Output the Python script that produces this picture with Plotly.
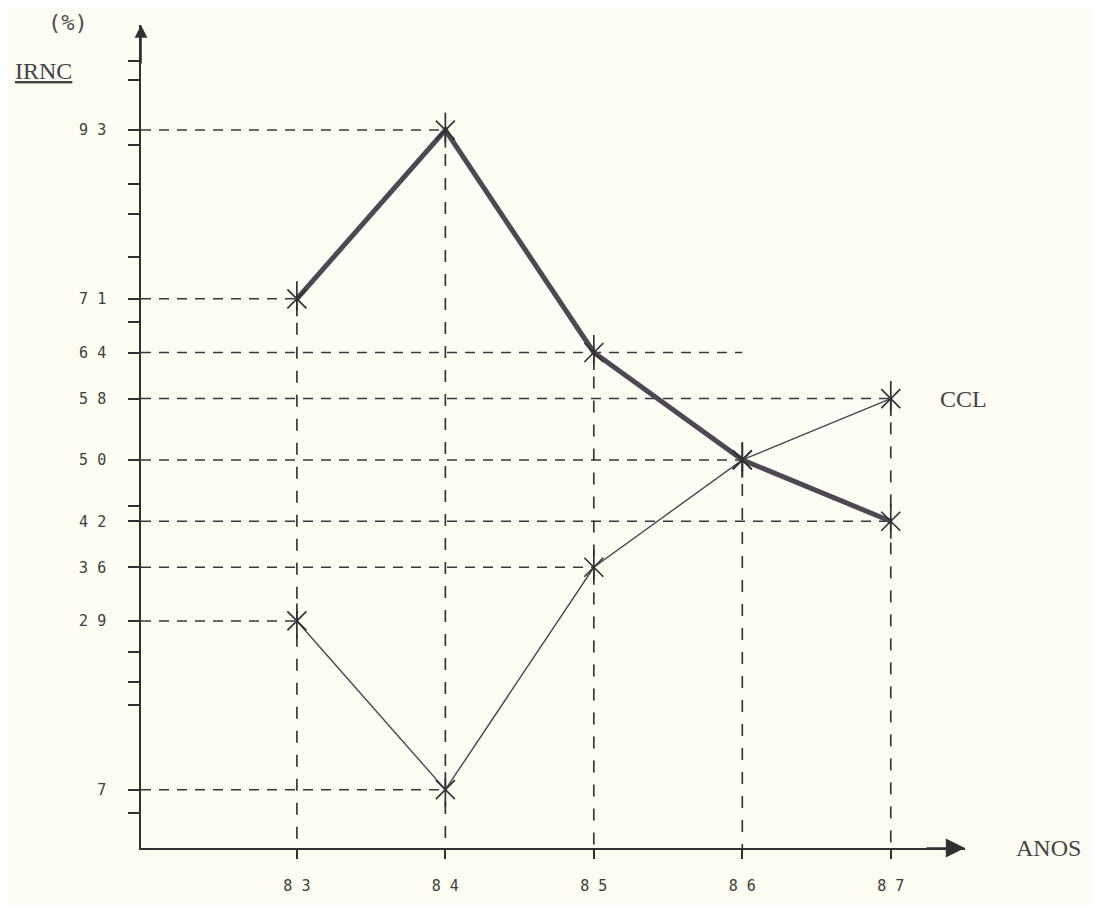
import plotly.graph_objects as go

# ---- data ----
anos = [83, 84, 85, 86, 87]
irnc = [71, 93, 64, 50, 42]
ccl = [29, 7, 36, 50, 58]
y_labeled_ticks = [93, 71, 64, 58, 50, 42, 36, 29, 7]
y_minor_ticks = [102, 99.5, 91, 86, 82, 76.5, 68, 44, 25, 21, 18, 4]
x_tick_labels = ["8 3", "8 4", "8 5", "8 6", "8 7"]

X_RANGE = [81.95, 87.5]
Y_RANGE = [-0.6, 106.7]
INK = "#333030"
BG = "#fdfdf4"

fig = go.Figure()

# ---- dashed guide lines ----
guide = dict(color="#3a3636", width=1.5, dash="10px,8px")
h_extend = {64: 86}  # hand-drawn line that runs past its point
h_done = set()
for xs, ys in [(anos, irnc), (anos, ccl)]:
    for xv, yv in zip(xs, ys):
        if yv in h_done:
            continue
        h_done.add(yv)
        x_end = max(xv, h_extend.get(yv, xv))
        fig.add_shape(type="line", xref="x", yref="y", x0=X_RANGE[0], x1=x_end,
                      y0=yv, y1=yv, line=guide, layer="below")
for i, xv in enumerate(anos):
    top = max(irnc[i], ccl[i])
    fig.add_shape(type="line", xref="x", yref="y", x0=xv, x1=xv,
                  y0=top, y1=Y_RANGE[0],
                  line=dict(color="#3a3636", width=1.7, dash="12px,12px"),
                  layer="below")

# ---- series ----
fig.add_trace(go.Scatter(
    x=anos, y=ccl, mode="lines", name="CCL",
    line=dict(color="#4a4550", width=1.4),
))
fig.add_trace(go.Scatter(
    x=anos, y=irnc, mode="lines", name="IRNC",
    line=dict(color="#4e4754", width=5),
))
# asterisk-like star markers (X + vertical stroke)
for ys in (ccl, irnc):
    for sym, sz in (("x-thin-open", 19), ("line-ns-open", 25)):
        fig.add_trace(go.Scatter(
            x=anos, y=ys, mode="markers", hoverinfo="skip",
            marker=dict(symbol=sym, size=sz, color=INK,
                        line=dict(color=INK, width=1.7)),
        ))

# ---- axes ----
tickvals = y_labeled_ticks + y_minor_ticks
ticktext = [" ".join(str(v)) for v in y_labeled_ticks] + [""] * len(y_minor_ticks)

fig.update_xaxes(
    range=X_RANGE, tickvals=anos, ticktext=x_tick_labels,
    showgrid=False, zeroline=False, showline=True, linecolor=INK, linewidth=1.6,
    ticks="outside", ticklen=9, tickwidth=2, tickcolor=INK,
    ticklabelstandoff=14,
    tickfont=dict(family="DejaVu Sans Mono", size=15, color="#3c3c3c"),
)
fig.update_yaxes(
    range=Y_RANGE, tickvals=tickvals, ticktext=ticktext,
    showgrid=False, zeroline=False, showline=True, linecolor=INK, linewidth=1.6,
    ticks="outside", ticklen=11, tickwidth=1.6, tickcolor=INK,
    ticklabelstandoff=19,
    tickfont=dict(family="DejaVu Sans Mono", size=15, color="#3c3c3c"),
)

# ---- arrows & texts ----
fig.add_annotation(xref="x", yref="y", x=X_RANGE[0], y=Y_RANGE[1], ax=0, ay=40,
                   showarrow=True, arrowhead=2, arrowsize=1.6, arrowwidth=1.6,
                   arrowcolor=INK, text="")
fig.add_annotation(xref="paper", yref="y", x=1.0, y=Y_RANGE[0], ax=-40, ay=0,
                   showarrow=True, arrowhead=2, arrowsize=2.4, arrowwidth=1.6,
                   arrowcolor=INK, text="")
txt_font = dict(family="Liberation Serif", size=24, color="#444")
fig.add_annotation(xref="paper", yref="y", x=1.059, y=Y_RANGE[0],
                   xanchor="left", yanchor="middle",
                   showarrow=False, text="ANOS", font=txt_font)
fig.add_annotation(xref="x", yref="y", x=anos[-1], y=ccl[-1],
                   xanchor="left", yanchor="middle", xshift=47,
                   showarrow=False, text="CCL", font=txt_font)
fig.add_annotation(xref="paper", yref="paper", x=-0.118, y=0.944,
                   xanchor="center", yanchor="middle",
                   showarrow=False, text="<u>IRNC</u>", font=txt_font)
fig.add_annotation(xref="paper", yref="paper", x=-0.088, y=1.003,
                   xanchor="center", yanchor="middle",
                   showarrow=False, text="(%)",
                   font=dict(family="DejaVu Sans Mono", size=22, color="#4a4a4a"))

# page body adds an 8px offset; margins compensate so plot area sits at
# x 141..965, y 25..848 on screen
fig.update_layout(
    width=1100, height=905,
    margin=dict(l=133, r=143, t=17, b=65),
    paper_bgcolor=BG, plot_bgcolor=BG,
    showlegend=False,
)

fig.write_html("out.html")
